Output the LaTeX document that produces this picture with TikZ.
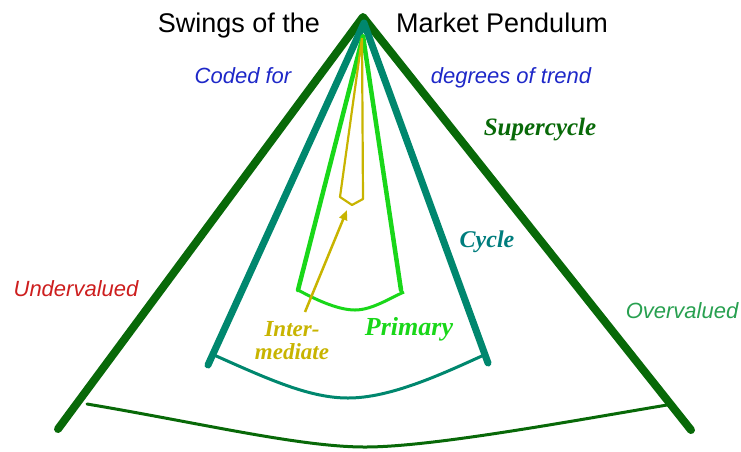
\documentclass[tikz,border=0pt]{standalone}
\usepackage{fontspec}
\setmainfont{Liberation Serif}
\newfontfamily\arialfont{Liberation Sans}
\usetikzlibrary{arrows.meta}
\definecolor{supc}{RGB}{8,105,8}
\definecolor{cyc}{RGB}{0,135,110}
\definecolor{prim}{RGB}{25,215,25}
\definecolor{inter}{RGB}{200,180,0}
\definecolor{bluetxt}{RGB}{30,40,200}
\definecolor{redtxt}{RGB}{205,30,30}
\definecolor{overtxt}{RGB}{40,160,80}
\definecolor{cyctxt}{RGB}{0,125,125}
\tikzset{
  title/.style={anchor=base,inner sep=0pt,font=\arialfont\fontsize{27}{32}\selectfont},
  note/.style={anchor=base,inner sep=0pt,font=\arialfont\itshape\fontsize{22}{26}\selectfont},
  deg/.style={anchor=base,inner sep=0pt,font=\bfseries\itshape\fontsize{#1}{#1}\selectfont},
  leg/.style={line cap=round,line join=round},
  swing/.style={line width=3pt,line cap=round},
}
\begin{document}
\begin{tikzpicture}[x=1pt,y=-1pt]
\useasboundingbox (0,0) rectangle (741,451);
% coordinates
\coordinate (sapex) at (363,17);
\coordinate (sl) at (58,429);
\coordinate (sr) at (691,430);
\coordinate (capex) at (364,23);
\coordinate (cl) at (208,365);
\coordinate (cr) at (488,363);
\coordinate (papex) at (363,36);
\coordinate (pl) at (298,290);
\coordinate (pr) at (401,290);
\coordinate (iapex) at (362,38);
\coordinate (il) at (340,197);
\coordinate (ib) at (352,205);
\coordinate (ir) at (363,199);
\coordinate (atail) at (305,312);
\coordinate (ahead) at (347,210);
% supercycle
\draw[supc,line width=8pt,leg] (sl) -- (sapex) -- (sr);
\draw[supc,swing] (87,404) .. controls (200,423) and (300,447) .. (365,447)
  .. controls (430,447) and (560,423) .. (667,405);
% cycle
\draw[cyc,line width=7pt,leg] (cl) -- (capex) -- (cr);
\draw[cyc,swing] (214,355) .. controls (270,380) and (310,398) .. (348,398)
  .. controls (390,398) and (440,375) .. (484,355);
% primary
\draw[prim,line width=4.5pt,leg] (pl) -- (papex) -- (pr);
\draw[prim,line width=3pt] (pl) .. controls (320,302) and (340,310) .. (355,310)
  .. controls (372,310) and (390,298) .. (404,292);
% intermediate pendulum
\draw[inter,line width=2.2pt,line join=round] (iapex) -- (il) -- (ib) -- (ir) -- (iapex);
\draw[inter,line width=2.5pt,-{Triangle[length=10pt,width=8pt]}] (atail) -- (ahead);
% texts
\node[title] (t1) at (239,32) {Swings of the};
\node[title] (t2) at (502,32) {Market Pendulum};
\node[note,text=bluetxt] (c1) at (243,83) {Coded for};
\node[note,text=bluetxt] (c2) at (511,83) {degrees of trend};
\node[note,text=redtxt] (uv) at (76,296) {Undervalued};
\node[note,text=overtxt] (ov) at (682,318) {Overvalued};
\node[deg=25,text=supc] (lsup) at (540,135) {Supercycle};
\node[deg=24,text=cyctxt] (lcyc) at (487,247) {Cycle};
\node[deg=26,text=prim] (lprim) at (409,335) {Primary};
\node[deg=23,text=inter] (lint1) at (292,336) {Inter-};
\node[deg=23,text=inter] (lint2) at (292,359) {mediate};
\end{tikzpicture}
\end{document}
